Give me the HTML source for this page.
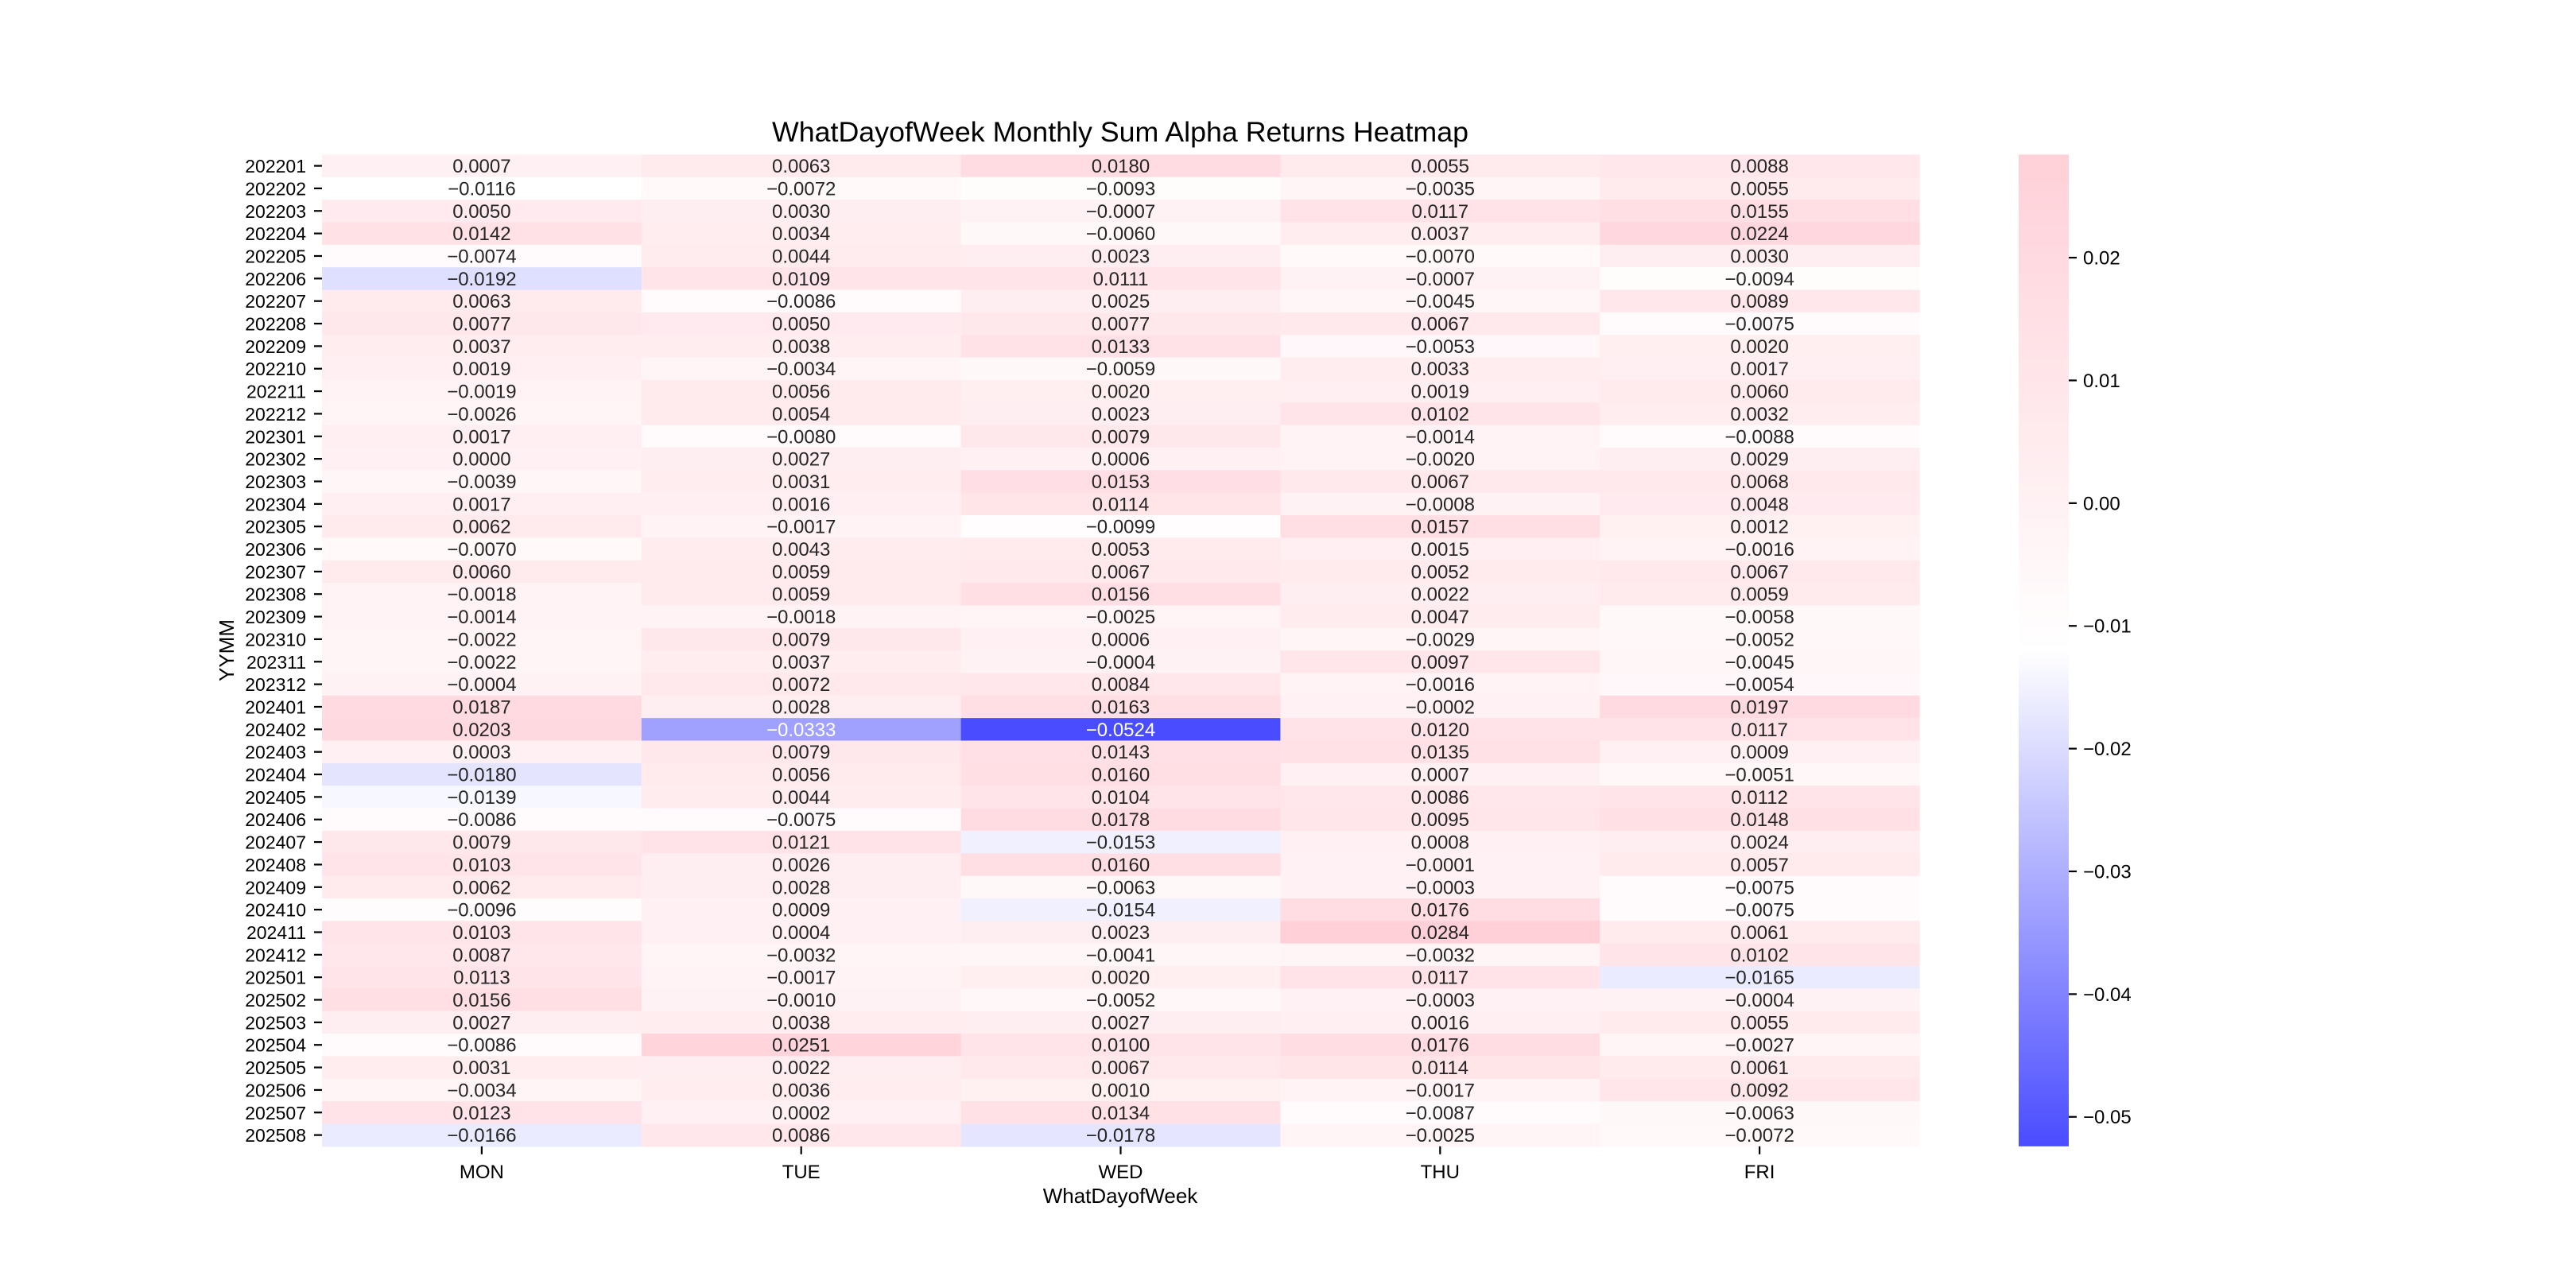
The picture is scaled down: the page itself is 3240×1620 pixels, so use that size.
<!DOCTYPE html>
<html><head><meta charset="utf-8"><style>
html,body{margin:0;padding:0;background:#fff}
svg{display:block}
text{font-family:"Liberation Sans","Noto Sans CJK SC",sans-serif}
</style></head><body>
<svg id="chart" xmlns="http://www.w3.org/2000/svg" width="3240" height="1620" viewBox="0 0 3240 1620">
<defs>
<linearGradient id="cbgrad" x1="0" y1="1" x2="0" y2="0">
<stop offset="0" stop-color="#4a4cff"/>
<stop offset="0.5" stop-color="#ffffff"/>
<stop offset="1" stop-color="#ffd0d8"/>
</linearGradient>
</defs>
<text x="1409" y="178" text-anchor="middle" font-size="35" textLength="876" lengthAdjust="spacingAndGlyphs">WhatDayofWeek Monthly Sum Alpha Returns Heatmap</text>
<g id="cells"></g>
<g id="yticks"></g>
<g id="xticks"></g>
<text x="1409" y="1513" text-anchor="middle" font-size="26">WhatDayofWeek</text>
<text x="0" y="0" text-anchor="middle" font-size="26" transform="translate(294,818) rotate(-90)">YYMM</text>
<rect x="2539" y="194.4" width="63" height="1247.4" fill="url(#cbgrad)"/>
<g id="cbticks"></g>
</svg>
<script>
const days = ["MON","TUE","WED","THU","FRI"];
const months = ["202201","202202","202203","202204","202205","202206","202207","202208","202209","202210","202211","202212","202301","202302","202303","202304","202305","202306","202307","202308","202309","202310","202311","202312","202401","202402","202403","202404","202405","202406","202407","202408","202409","202410","202411","202412","202501","202502","202503","202504","202505","202506","202507","202508"];
const mon = [0.0007,-0.0116,0.0050,0.0142,-0.0074,-0.0192,0.0063,0.0077,0.0037,0.0019,-0.0019,-0.0026,0.0017,0.0000,-0.0039,0.0017,0.0062,-0.0070,0.0060,-0.0018,-0.0014,-0.0022,-0.0022,-0.0004,0.0187,0.0203,0.0003,-0.0180,-0.0139,-0.0086,0.0079,0.0103,0.0062,-0.0096,0.0103,0.0087,0.0113,0.0156,0.0027,-0.0086,0.0031,-0.0034,0.0123,-0.0166];
const tue = [0.0063,-0.0072,0.0030,0.0034,0.0044,0.0109,-0.0086,0.0050,0.0038,-0.0034,0.0056,0.0054,-0.0080,0.0027,0.0031,0.0016,-0.0017,0.0043,0.0059,0.0059,-0.0018,0.0079,0.0037,0.0072,0.0028,-0.0333,0.0079,0.0056,0.0044,-0.0075,0.0121,0.0026,0.0028,0.0009,0.0004,-0.0032,-0.0017,-0.0010,0.0038,0.0251,0.0022,0.0036,0.0002,0.0086];
const wed = [0.0180,-0.0093,-0.0007,-0.0060,0.0023,0.0111,0.0025,0.0077,0.0133,-0.0059,0.0020,0.0023,0.0079,0.0006,0.0153,0.0114,-0.0099,0.0053,0.0067,0.0156,-0.0025,0.0006,-0.0004,0.0084,0.0163,-0.0524,0.0143,0.0160,0.0104,0.0178,-0.0153,0.0160,-0.0063,-0.0154,0.0023,-0.0041,0.0020,-0.0052,0.0027,0.0100,0.0067,0.0010,0.0134,-0.0178];
const thu = [0.0055,-0.0035,0.0117,0.0037,-0.0070,-0.0007,-0.0045,0.0067,-0.0053,0.0033,0.0019,0.0102,-0.0014,-0.0020,0.0067,-0.0008,0.0157,0.0015,0.0052,0.0022,0.0047,-0.0029,0.0097,-0.0016,-0.0002,0.0120,0.0135,0.0007,0.0086,0.0095,0.0008,-0.0001,-0.0003,0.0176,0.0284,-0.0032,0.0117,-0.0003,0.0016,0.0176,0.0114,-0.0017,-0.0087,-0.0025];
const fri = [0.0088,0.0055,0.0155,0.0224,0.0030,-0.0094,0.0089,-0.0075,0.0020,0.0017,0.0060,0.0032,-0.0088,0.0029,0.0068,0.0048,0.0012,-0.0016,0.0067,0.0059,-0.0058,-0.0052,-0.0045,-0.0054,0.0197,0.0117,0.0009,-0.0051,0.0112,0.0148,0.0024,0.0057,-0.0075,-0.0075,0.0061,0.0102,-0.0165,-0.0004,0.0055,-0.0027,0.0061,0.0092,-0.0063,-0.0072];
const cbTicks = [0.02,0.01,0.00,-0.01,-0.02,-0.03,-0.04,-0.05];
const cbTickLabels = ["0.02","0.01","0.00","\u22120.01","\u22120.02","\u22120.03","\u22120.04","\u22120.05"];

const series = [mon,tue,wed,thu,fri];
const NS = "http://www.w3.org/2000/svg";
const L = 405, R = 2414, T = 194.4, B = 1441.8;
const all = series.flat();
const vmin = Math.min(...all), vmax = Math.max(...all);
const cw = (R - L) / days.length, rh = (B - T) / months.length;
const xPos = i => L + i * cw;
const yPos = j => T + j * rh;
const cbY = v => T + (vmax - v) / (vmax - vmin) * (B - T);

function color(v) {
  const t = (v - vmin) / (vmax - vmin);
  let c;
  if (t < 0.5) { const u = t / 0.5; c = [74 + u * 181, 76 + u * 179, 255]; }
  else { const u = (t - 0.5) / 0.5; c = [255, 255 - u * 47, 255 - u * 39]; }
  return c.map(Math.round);
}
function lum(c) {
  const f = x => { x /= 255; return x <= 0.03928 ? x / 12.92 : Math.pow((x + 0.055) / 1.055, 2.4); };
  return 0.2126 * f(c[0]) + 0.7152 * f(c[1]) + 0.0722 * f(c[2]);
}
function fmt(v) {
  const s = Math.abs(v).toFixed(4);
  return (v < 0 ? "\u2212" : "") + s;
}
const cells = document.getElementById("cells");
series.forEach((col, i) => {
  col.forEach((v, j) => {
    const c = color(v);
    const r = document.createElementNS(NS, "rect");
    
    
    r.setAttribute("x", xPos(i)); r.setAttribute("y", yPos(j));
    r.setAttribute("width", cw + 0.6); r.setAttribute("height", rh + 0.6);
    r.setAttribute("fill", `rgb(${c[0]},${c[1]},${c[2]})`);
    cells.appendChild(r);
    const t = document.createElementNS(NS, "text");
    
    
    t.setAttribute("x", xPos(i) + cw / 2); t.setAttribute("y", yPos(j) + rh / 2 + 8.5);
    t.setAttribute("text-anchor", "middle"); t.setAttribute("font-size", "24");
    t.setAttribute("fill", lum(c) < 0.408 ? "#ffffff" : "#262626");
    t.textContent = fmt(v);
    cells.appendChild(t);
  });
});
const yt = document.getElementById("yticks");
months.forEach((m, j) => {
  const y = yPos(j) + rh / 2;
  const ln = document.createElementNS(NS, "line");
  
  
  ln.setAttribute("x1", L - 10); ln.setAttribute("x2", L); ln.setAttribute("y1", y); ln.setAttribute("y2", y);
  ln.setAttribute("stroke", "#000"); ln.setAttribute("stroke-width", "2.2");
  yt.appendChild(ln);
  const t = document.createElementNS(NS, "text");
  
  
  t.setAttribute("x", L - 20); t.setAttribute("y", y + 8.5);
  t.setAttribute("text-anchor", "end"); t.setAttribute("font-size", "23");
  t.textContent = m;
  yt.appendChild(t);
});
const xt = document.getElementById("xticks");
days.forEach((d, i) => {
  const x = xPos(i) + cw / 2;
  const ln = document.createElementNS(NS, "line");
  
  
  ln.setAttribute("x1", x); ln.setAttribute("x2", x); ln.setAttribute("y1", B); ln.setAttribute("y2", B + 10);
  ln.setAttribute("stroke", "#000"); ln.setAttribute("stroke-width", "2.2");
  xt.appendChild(ln);
  const t = document.createElementNS(NS, "text");
  
  
  t.setAttribute("x", x); t.setAttribute("y", B + 40);
  t.setAttribute("text-anchor", "middle"); t.setAttribute("font-size", "24");
  t.textContent = d;
  xt.appendChild(t);
});
const cbt = document.getElementById("cbticks");
cbTicks.forEach((v, k) => {
  const y = cbY(v);
  const ln = document.createElementNS(NS, "line");
  
  
  ln.setAttribute("x1", 2602); ln.setAttribute("x2", 2612); ln.setAttribute("y1", y); ln.setAttribute("y2", y);
  ln.setAttribute("stroke", "#000"); ln.setAttribute("stroke-width", "2.2");
  cbt.appendChild(ln);
  const t = document.createElementNS(NS, "text");
  
  
  t.setAttribute("x", 2620); t.setAttribute("y", y + 8.5);
  t.setAttribute("font-size", "24");
  t.textContent = cbTickLabels[k];
  cbt.appendChild(t);
});
</script>
</body></html>
